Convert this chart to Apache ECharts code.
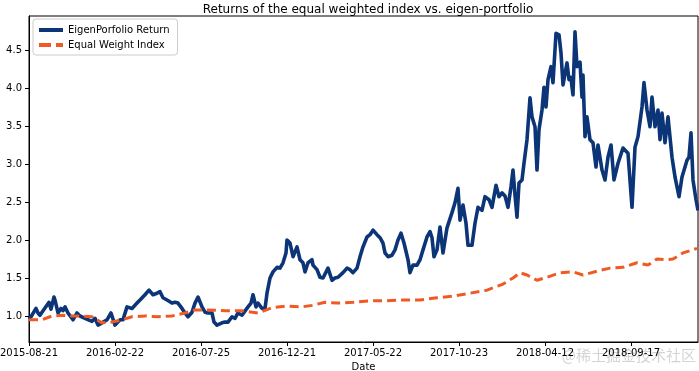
<!DOCTYPE html>
<html>
<head>
<meta charset="utf-8">
<script src="https://cdn.jsdelivr.net/npm/echarts@6/dist/echarts.min.js"></script>
<style>html,body{margin:0;padding:0;background:#fff;}#c{width:699px;height:371px;}</style>
</head>
<body>
<div id="c"></div>
<script>
const tickLabels = ['2015-08-21','2016-02-22','2016-07-25','2016-12-21','2017-05-22','2017-10-23','2018-04-12','2018-09-17'];
const daysPerTick = 86;
const lastDay = 669;

const eigenDays = [0,2,4,7,9,11,13,20,22,25,26,29,32,34,36,39,44,48,51,56,63,66,69,73,78,82,86,91,94,98,103,108,111,116,120,124,128,131,134,138,143,146,149,153,156,159,163,166,169,173,176,179,183,185,188,193,196,199,203,206,209,213,219,222,224,227,229,233,236,238,241,244,248,251,254,257,258,261,264,268,271,274,276,279,283,284,288,291,294,299,303,306,309,314,318,321,324,328,331,334,338,341,344,348,351,354,356,359,363,366,369,372,375,379,381,384,388,391,394,398,401,403,405,408,411,414,418,423,426,429,431,434,437,439,443,446,449,453,456,460,463,467,470,473,476,479,482,484,486,488,490,493,495,498,501,503,506,508,510,513,515,517,519,522,524,527,530,532,534,536,538,540,542,543,544,546,548,551,553,554,556,558,561,564,567,569,573,576,579,582,585,589,594,599,603,606,609,613,615,618,621,623,626,629,631,633,636,639,643,646,650,653,658,660,662,664,667,669];
const eigenValues = [0.96,0.99,1.00,1.10,1.04,1.01,1.05,1.18,1.09,1.25,1.21,1.04,1.10,1.07,1.12,1.04,0.95,1.04,1.00,0.97,0.93,0.97,0.88,0.91,0.95,1.04,0.88,0.95,0.95,1.12,1.10,1.17,1.21,1.28,1.34,1.28,1.30,1.32,1.24,1.21,1.17,1.18,1.17,1.10,1.04,0.99,1.05,1.17,1.25,1.12,1.05,1.04,1.04,0.92,0.88,0.91,0.92,0.92,0.99,0.97,1.04,1.01,1.12,1.17,1.28,1.12,1.17,1.10,1.10,1.30,1.50,1.58,1.64,1.63,1.70,1.83,2.00,1.96,1.78,1.91,1.74,1.70,1.58,1.70,1.74,1.67,1.61,1.51,1.50,1.63,1.47,1.50,1.51,1.57,1.63,1.61,1.57,1.63,1.78,1.91,2.04,2.07,2.13,2.07,2.03,1.96,1.83,1.78,1.80,1.87,2.00,2.09,1.96,1.74,1.57,1.67,1.67,1.74,1.87,2.04,2.11,2.03,1.78,1.87,2.17,1.83,2.16,2.36,2.49,2.68,2.26,2.46,2.22,1.93,1.93,2.22,2.43,2.39,2.57,2.53,2.43,2.72,2.57,2.62,2.58,2.43,2.70,2.92,2.59,2.30,2.75,2.79,3.01,3.32,3.87,3.62,3.49,2.92,3.45,3.71,4.01,3.75,4.11,4.28,4.07,4.72,4.70,4.46,4.04,4.04,4.33,4.11,4.14,4.01,3.91,4.74,4.28,4.34,3.88,4.17,3.36,3.62,3.32,3.28,2.96,3.25,2.92,2.79,3.09,3.25,2.79,3.01,3.21,3.14,2.43,3.22,3.36,3.75,4.07,3.71,3.49,3.88,3.49,3.71,3.32,3.67,3.28,3.62,3.09,2.83,2.57,2.83,3.05,3.09,3.41,2.79,2.53,2.39];

const equalDays = [0,13,23,33,43,53,63,73,83,93,103,116,129,143,156,166,179,196,213,229,243,256,273,283,296,308,324,341,358,374,391,408,424,441,458,474,484,491,498,508,518,531,544,554,568,581,594,608,619,628,638,644,654,668];
const equalValues = [0.95,0.95,1.00,1.01,1.00,1.00,0.99,0.91,0.92,0.95,0.99,1.00,0.99,1.00,1.04,1.08,1.08,1.07,1.07,1.04,1.11,1.13,1.12,1.14,1.18,1.17,1.18,1.20,1.20,1.21,1.21,1.24,1.26,1.30,1.34,1.42,1.50,1.57,1.54,1.47,1.51,1.57,1.58,1.54,1.59,1.63,1.64,1.70,1.67,1.75,1.74,1.75,1.83,1.89];

const eigenData = eigenDays.map((d, i) => [d, eigenValues[i]]);
const equalData = equalDays.map((d, i) => [d, equalValues[i]]);

const FONT = 'DejaVu Sans';
const chart = echarts.init(document.getElementById('c'), null, {renderer: 'canvas'});
chart.setOption({
  animation: false,
  backgroundColor: '#ffffff',
  textStyle: {fontFamily: FONT},
  title: {
    text: 'Returns of the equal weighted index vs. eigen-portfolio',
    left: 363, top: -1, textAlign: 'center',
    textStyle: {fontFamily: FONT, fontSize: 12, fontWeight: 'normal', color: '#000'}
  },
  legend: {
    orient: 'vertical', left: 33, top: 19,
    padding: [5, 8, 4, 6],
    itemGap: 3, itemWidth: 24, itemHeight: 4,
    borderColor: '#cccccc', borderWidth: 1, borderRadius: 3,
    backgroundColor: '#ffffff',
    textStyle: {fontFamily: FONT, fontSize: 10, color: '#000', lineHeight: 12},
    data: [
      {name: 'EigenPorfolio Return', icon: 'path://M0,0H24V4H0Z'},
      {name: 'Equal Weight Index', icon: 'path://M0,0H12V4H0Z M17,0H24V4H17Z'}
    ]
  },
  grid: {left: 29, right: 1, top: 16, bottom: 29, show: true, borderColor: '#000', borderWidth: 1, containLabel: false, outerBoundsMode: 'none'},
  xAxis: {
    type: 'value', min: 0, max: lastDay, interval: daysPerTick,
    name: 'Date', nameLocation: 'middle', nameGap: 20,
    nameTextStyle: {fontFamily: FONT, fontSize: 10, color: '#000'},
    axisLine: {show: true, onZero: false, lineStyle: {color: '#000', width: 1}},
    axisTick: {show: true, inside: false, length: 4, lineStyle: {color: '#000'}},
    splitLine: {show: false},
    axisLabel: {
      color: '#000', fontFamily: FONT, fontSize: 10, margin: 6, showMaxLabel: false,
      formatter: v => { const k = v / daysPerTick; return Number.isInteger(k) && tickLabels[k] ? tickLabels[k] : ''; }
    }
  },
  yAxis: {
    type: 'value', min: 0.658, max: 4.947, splitNumber: 8,
    axisLine: {show: true, onZero: false, lineStyle: {color: '#000', width: 1}},
    axisTick: {show: true, inside: false, length: 4, lineStyle: {color: '#000'}},
    splitLine: {show: false},
    axisLabel: {
      color: '#000', fontFamily: FONT, fontSize: 10, margin: 7,
      showMinLabel: false, showMaxLabel: false,
      formatter: v => v.toFixed(1)
    }
  },
  series: [
    {
      name: 'EigenPorfolio Return', type: 'line', data: eigenData,
      symbol: 'none', showSymbol: false, z: 3,
      lineStyle: {color: '#0c3578', width: 3.6, join: 'round'},
      itemStyle: {color: '#0c3578'}
    },
    {
      name: 'Equal Weight Index', type: 'line', data: equalData,
      symbol: 'none', showSymbol: false, z: 4,
      lineStyle: {color: '#ef5a24', width: 3, type: [9, 5]},
      itemStyle: {color: '#ef5a24'}
    }
  ],
  graphic: [{
    type: 'text', right: 3, bottom: 8, silent: true, z: 0,
    style: {text: '@稀土掘金技术社区', fontFamily: 'Noto Sans CJK SC', fontSize: 15, fill: 'rgba(170,170,170,0.5)'}
  }]
});
</script>
</body>
</html>
